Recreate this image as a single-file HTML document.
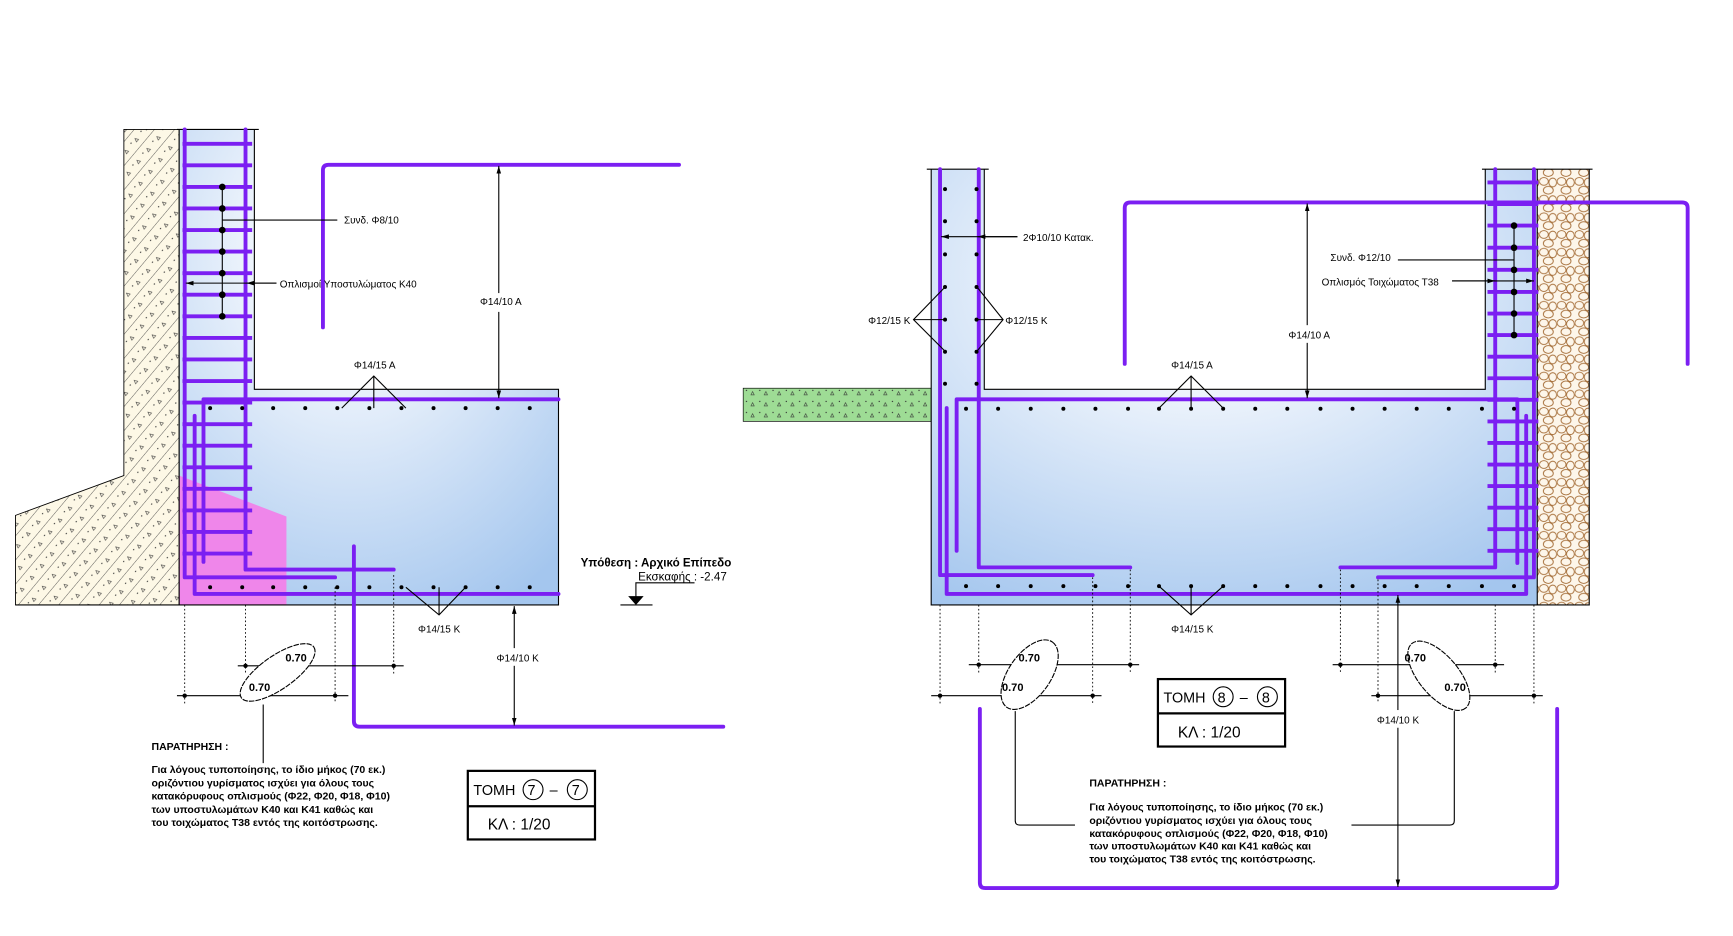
<!DOCTYPE html>
<html><head><meta charset="utf-8"><style>
html,body{margin:0;padding:0;background:#fff;}
svg{display:block;}
text{font-family:"Liberation Sans",sans-serif;fill:#000;}
.s{font-size:9px;}
.p{fill:none;stroke:#7b1ff2;stroke-width:3.5;stroke-linecap:round;stroke-linejoin:round;}
.l{fill:none;stroke:#000;stroke-width:1;}
.d{fill:none;stroke:#000;stroke-width:0.8;stroke-dasharray:1.5 2;}
</style></head><body>
<svg width="1733" height="936" viewBox="0 0 1567 846.3" preserveAspectRatio="none" xmlns="http://www.w3.org/2000/svg">
<defs>
<radialGradient id="bg" cx="0.45" cy="0.25" r="0.85">
<stop offset="0" stop-color="#ffffff"/><stop offset="0.3" stop-color="#eef4fc"/><stop offset="1" stop-color="#a4c6ee"/></radialGradient>
<pattern id="soil" width="14" height="14" patternUnits="userSpaceOnUse" patternTransform="rotate(-50)">
<rect width="14" height="14" fill="#fdf8e6"/><line x1="0" y1="0" x2="14" y2="0" stroke="#333" stroke-width="0.7"/>
<circle cx="5" cy="6" r="0.6" fill="#333"/><path d="M9 9 l3 0 l-1.5 -3z" fill="none" stroke="#333" stroke-width="0.5"/></pattern>
<pattern id="grass" width="12" height="10" patternUnits="userSpaceOnUse">
<rect width="12" height="10" fill="#9edc95"/><circle cx="3" cy="3" r="0.6" fill="#333"/><path d="M7 7 l3 0 l-1.5-3z" fill="none" stroke="#333" stroke-width="0.5"/></pattern>
<pattern id="grav" width="16" height="16" patternUnits="userSpaceOnUse">
<rect width="16" height="16" fill="#fdf6ea"/>
<ellipse cx="4" cy="4" rx="4" ry="3.5" fill="none" stroke="#a36a33" stroke-width="0.8"/>
<ellipse cx="12" cy="5" rx="3.5" ry="4" fill="none" stroke="#a36a33" stroke-width="0.8"/>
<ellipse cx="8" cy="12" rx="4.5" ry="3.5" fill="none" stroke="#a36a33" stroke-width="0.8"/>
</pattern>
<marker id="a" viewBox="0 0 10 10" refX="10" refY="5" markerWidth="7" markerHeight="7" orient="auto-start-reverse"><path d="M0 2 L10 5 L0 8z" fill="#000"/></marker>
<g id="dl" fill="#000"><circle cx="190" r="1.8"/><circle cx="219" r="1.8"/><circle cx="247" r="1.8"/><circle cx="276" r="1.8"/><circle cx="305" r="1.8"/><circle cx="334" r="1.8"/><circle cx="363" r="1.8"/><circle cx="392" r="1.8"/><circle cx="421" r="1.8"/><circle cx="450" r="1.8"/><circle cx="479" r="1.8"/></g>
<g id="dw" fill="#000"><circle cy="171" r="1.8"/><circle cy="200" r="1.8"/><circle cy="230" r="1.8"/><circle cy="259.5" r="1.8"/><circle cy="289" r="1.8"/><circle cy="318" r="1.8"/><circle cy="347" r="1.8"/></g>
<g id="dr" fill="#000"><circle cx="873.5" r="1.8"/><circle cx="902.5" r="1.8"/><circle cx="932" r="1.8"/><circle cx="961.5" r="1.8"/><circle cx="990.5" r="1.8"/><circle cx="1020" r="1.8"/><circle cx="1048" r="1.8"/><circle cx="1077" r="1.8"/><circle cx="1106" r="1.8"/><circle cx="1135" r="1.8"/><circle cx="1164" r="1.8"/><circle cx="1194" r="1.8"/><circle cx="1223" r="1.8"/><circle cx="1252" r="1.8"/><circle cx="1281" r="1.8"/><circle cx="1310" r="1.8"/><circle cx="1340" r="1.8"/><circle cx="1369" r="1.8"/></g>
</defs>

<!-- LEFT DRAWING -->
<path d="M112 117 V430 L14 466 V547 H162 V117 Z" fill="url(#soil)" stroke="#000" stroke-width="0.8"/>
<path d="M162 117 H230 V352 H505 V547 H162 Z" fill="url(#bg)"/>
<path d="M162 430 L259 467 V547 H162 Z" fill="#ef86ea"/>
<path class="l" d="M230 117 V352 H505 V547 H14"/>
<line class="l" x1="160" y1="117" x2="234" y2="117"/>
<line class="l" x1="162" y1="117" x2="162" y2="547" stroke-width="0.6"/>
<g class="p">
<path d="M167 117 V522 H303"/><path d="M222 117 V515 H356"/>
<path d="M184 508 V361 H505"/><path d="M176 376 V537 H505"/>
<path d="M292 296 V154 Q292 149 297 149 H614"/>
<path d="M320 494 V652 Q320 657 325 657 H654"/>
</g>
<g stroke="#7b1ff2" stroke-width="3.5">
<line x1="165" y1="130" x2="228" y2="130"/><line x1="165" y1="149.5" x2="228" y2="149.5"/><line x1="165" y1="169" x2="228" y2="169"/><line x1="165" y1="188.5" x2="228" y2="188.5"/><line x1="165" y1="208" x2="228" y2="208"/><line x1="165" y1="227.5" x2="228" y2="227.5"/><line x1="165" y1="247" x2="228" y2="247"/><line x1="165" y1="266.5" x2="228" y2="266.5"/><line x1="165" y1="286" x2="228" y2="286"/><line x1="165" y1="305.5" x2="228" y2="305.5"/><line x1="165" y1="325" x2="228" y2="325"/><line x1="165" y1="344.5" x2="228" y2="344.5"/><line x1="165" y1="364" x2="228" y2="364"/><line x1="165" y1="383.5" x2="228" y2="383.5"/><line x1="165" y1="403" x2="228" y2="403"/><line x1="165" y1="422.5" x2="228" y2="422.5"/><line x1="165" y1="442" x2="228" y2="442"/><line x1="165" y1="461.5" x2="228" y2="461.5"/><line x1="165" y1="481" x2="228" y2="481"/><line x1="165" y1="500.5" x2="228" y2="500.5"/>
</g>
<line class="l" x1="201" y1="169" x2="201" y2="287"/>
<g fill="#000">
<circle cx="201" cy="169" r="3"/><circle cx="201" cy="188.5" r="3"/><circle cx="201" cy="208" r="3"/><circle cx="201" cy="227.5" r="3"/><circle cx="201" cy="247" r="3"/><circle cx="201" cy="266.5" r="3"/><circle cx="201" cy="286" r="3"/>
</g>
<use href="#dl" y="369"/><use href="#dl" y="531"/>
<line class="l" x1="201" y1="199" x2="305" y2="199"/>
<text class="s" x="311" y="202">Συνδ. Φ8/10</text>
<line class="l" x1="250" y1="256" x2="168" y2="256" marker-end="url(#a)"/>
<line class="l" x1="250" y1="256" x2="223" y2="256" marker-end="url(#a)"/>
<text class="s" x="253" y="260">Οπλισμοί Υποστυλώματος Κ40</text>
<line class="l" x1="451" y1="265" x2="451" y2="150" marker-end="url(#a)"/>
<line class="l" x1="451" y1="282" x2="451" y2="360" marker-end="url(#a)"/>
<text class="s" x="434" y="276">Φ14/10 Α</text>
<text class="s" x="320" y="333">Φ14/15 Α</text>
<path class="l" d="M309 369 L338 340 L367 369 M338 340 V369"/>
<text class="s" x="378" y="572">Φ14/15 Κ</text>
<path class="l" d="M367 531 L397 556 L421 531 M397 556 V531"/>
<line class="l" x1="465" y1="586" x2="465" y2="548" marker-end="url(#a)"/>
<line class="l" x1="465" y1="602" x2="465" y2="656" marker-end="url(#a)"/>
<text class="s" x="449" y="598">Φ14/10 Κ</text>
<text x="525" y="512" font-size="10.5" font-weight="bold">Υπόθεση : Αρχικό Επίπεδο</text>
<text x="577" y="525" font-size="10.5">Εκσκαφής : -2.47</text>
<path class="l" d="M628 527 H575 V540"/><path d="M568 539 H582 L575 547 Z" fill="#000"/>
<line class="l" x1="561" y1="547" x2="590" y2="547"/>
<g class="d"><line x1="167" y1="547" x2="167" y2="636"/><line x1="222" y1="547" x2="222" y2="609"/><line x1="303" y1="531" x2="303" y2="636"/><line x1="356" y1="520" x2="356" y2="609"/></g>
<g class="l"><line x1="215" y1="602" x2="365" y2="602"/><line x1="160" y1="629" x2="315" y2="629"/></g>
<g fill="#000"><circle cx="222" cy="602" r="2"/><circle cx="356" cy="602" r="2"/><circle cx="167" cy="629" r="2"/><circle cx="303" cy="629" r="2"/></g>
<ellipse cx="251" cy="608" rx="40" ry="15" transform="rotate(-35 251 608)" fill="#fff" stroke="#000" stroke-width="1" stroke-dasharray="5 1"/>
<text x="258" y="598" font-size="10" font-weight="bold">0.70</text>
<text x="225" y="625" font-size="10" font-weight="bold">0.70</text>
<line class="l" x1="238" y1="637" x2="238" y2="690"/>
<text x="137" y="678" font-size="9.5" font-weight="bold">ΠΑΡΑΤΗΡΗΣΗ :</text>
<g font-size="9.5" font-weight="bold">
<text x="137" y="699">Για λόγους τυποποίησης, το ίδιο μήκος (70 εκ.)</text>
<text x="137" y="711">οριζόντιου γυρίσματος ισχύει για όλους τους</text>
<text x="137" y="723">κατακόρυφους οπλισμούς (Φ22, Φ20, Φ18, Φ10)</text>
<text x="137" y="735">των υποστυλωμάτων Κ40 και Κ41 καθώς και</text>
<text x="137" y="747">του τοιχώματος Τ38 εντός της κοιτόστρωσης.</text>
</g>
<rect x="423" y="697" width="115" height="62" fill="none" stroke="#000" stroke-width="2"/>
<line x1="423" y1="729" x2="538" y2="729" stroke="#000" stroke-width="2"/>
<text x="428" y="719" font-size="13">ΤΟΜΗ</text>
<circle cx="482" cy="714" r="9" fill="none" stroke="#000"/><text x="477" y="719" font-size="13">7</text>
<text x="497" y="719" font-size="13">–</text>
<circle cx="522" cy="714" r="9" fill="none" stroke="#000"/><text x="517" y="719" font-size="13">7</text>
<text x="441" y="750" font-size="14">ΚΛ  :  1/20</text>

<!-- RIGHT DRAWING -->
<rect x="672" y="351" width="170" height="30" fill="url(#grass)" stroke="#000" stroke-width="0.6"/>
<path d="M842 153 H890 V352 H1343 V153 H1390 V547 H842 Z" fill="url(#bg)"/>
<rect x="1390" y="153" width="47" height="394" fill="url(#grav)"/>
<path class="l" d="M842 153 V547 H1437 V153 M890 153 V352 H1343 V153 M1390 153 V547"/>
<g class="l"><line x1="838" y1="153" x2="894" y2="153"/><line x1="1340" y1="153" x2="1440" y2="153"/></g>
<g class="p">
<path d="M850 153 V520 H988"/><path d="M885 153 V513 H1022"/>
<path d="M865 498 V361 H1372 V509"/>
<path d="M856 369 V537 H1380 V376"/>
<path d="M1352 153 V513 H1212"/><path d="M1387 153 V522 H1246"/>
<path d="M1017 329 V188 Q1017 183 1022 183 H1521 Q1526 183 1526 188 V329"/>
<path d="M886 641 V798 Q886 803 891 803 H1403 Q1408 803 1408 798 V641"/>
</g>
<g stroke="#7b1ff2" stroke-width="3.5">
<line x1="1345" y1="165" x2="1391" y2="165"/><line x1="1345" y1="184.5" x2="1391" y2="184.5"/><line x1="1345" y1="204" x2="1391" y2="204"/><line x1="1345" y1="224" x2="1391" y2="224"/><line x1="1345" y1="244" x2="1391" y2="244"/><line x1="1345" y1="264" x2="1391" y2="264"/><line x1="1345" y1="283.5" x2="1391" y2="283.5"/><line x1="1345" y1="303" x2="1391" y2="303"/><line x1="1345" y1="322.5" x2="1391" y2="322.5"/><line x1="1345" y1="342" x2="1391" y2="342"/><line x1="1345" y1="361.5" x2="1391" y2="361.5"/><line x1="1345" y1="381" x2="1391" y2="381"/><line x1="1345" y1="400.5" x2="1391" y2="400.5"/><line x1="1345" y1="420" x2="1391" y2="420"/><line x1="1345" y1="439.5" x2="1391" y2="439.5"/><line x1="1345" y1="459" x2="1391" y2="459"/><line x1="1345" y1="478.5" x2="1391" y2="478.5"/><line x1="1345" y1="498" x2="1391" y2="498"/>
</g>
<line class="l" x1="1369" y1="204" x2="1369" y2="303"/>
<g fill="#000">
<circle cx="1369" cy="204" r="3"/><circle cx="1369" cy="224" r="3"/><circle cx="1369" cy="244" r="3"/><circle cx="1369" cy="264" r="3"/><circle cx="1369" cy="283.5" r="3"/><circle cx="1369" cy="303" r="3"/>
</g>
<use href="#dw" x="854.5"/><use href="#dw" x="883"/>
<use href="#dr" y="369.6"/><use href="#dr" y="530"/>
<line class="l" x1="920" y1="214" x2="851" y2="214" marker-end="url(#a)"/>
<line class="l" x1="920" y1="214" x2="884" y2="214" marker-end="url(#a)"/>
<text class="s" x="925" y="218">2Φ10/10 Κατακ.</text>
<path class="l" d="M855 259 L826 289 L855 318 M826 289 H855 M883 259 L907 289 L883 318 M907 289 H883"/>
<text class="s" x="785" y="293">Φ12/15 Κ</text>
<text class="s" x="909" y="293">Φ12/15 Κ</text>
<text class="s" x="1203" y="236">Συνδ. Φ12/10</text>
<line class="l" x1="1264" y1="235" x2="1369" y2="235"/>
<text class="s" x="1195" y="258">Οπλισμός Τοιχώματος Τ38</text>
<line class="l" x1="1313" y1="254" x2="1352" y2="254" marker-end="url(#a)"/>
<line class="l" x1="1313" y1="254" x2="1387" y2="254" marker-end="url(#a)"/>
<line class="l" x1="1182" y1="294" x2="1182" y2="184" marker-end="url(#a)"/>
<line class="l" x1="1182" y1="310" x2="1182" y2="360" marker-end="url(#a)"/>
<text class="s" x="1165" y="306">Φ14/10 Α</text>
<text class="s" x="1059" y="333">Φ14/15 Α</text>
<path class="l" d="M1048 369 L1077 340 L1106 369 M1077 340 V369"/>
<text class="s" x="1059" y="572">Φ14/15 Κ</text>
<path class="l" d="M1048 530 L1077 556 L1106 530 M1077 556 V530"/>
<line class="l" x1="1264" y1="642" x2="1264" y2="538" marker-end="url(#a)"/>
<line class="l" x1="1264" y1="658" x2="1264" y2="802" marker-end="url(#a)"/>
<text class="s" x="1245" y="654">Φ14/10 Κ</text>
<g class="d"><line x1="850" y1="547" x2="850" y2="636"/><line x1="885" y1="547" x2="885" y2="609"/><line x1="988" y1="522" x2="988" y2="636"/><line x1="1022" y1="515" x2="1022" y2="609"/><line x1="1212" y1="515" x2="1212" y2="609"/><line x1="1246" y1="524" x2="1246" y2="636"/><line x1="1352" y1="547" x2="1352" y2="609"/><line x1="1387" y1="547" x2="1387" y2="636"/></g>
<g class="l"><line x1="876" y1="601" x2="1030" y2="601"/><line x1="842" y1="629" x2="996" y2="629"/><line x1="1205" y1="601" x2="1360" y2="601"/><line x1="1240" y1="629" x2="1395" y2="629"/></g>
<g fill="#000"><circle cx="885" cy="601" r="2"/><circle cx="1022" cy="601" r="2"/><circle cx="850" cy="629" r="2"/><circle cx="988" cy="629" r="2"/><circle cx="1212" cy="601" r="2"/><circle cx="1352" cy="601" r="2"/><circle cx="1246" cy="629" r="2"/><circle cx="1387" cy="629" r="2"/></g>
<ellipse cx="931" cy="610" rx="36" ry="19" transform="rotate(-55 931 610)" fill="#fff" stroke="#000" stroke-width="1" stroke-dasharray="5 1"/>
<ellipse cx="1301" cy="611" rx="38" ry="18" transform="rotate(50 1301 611)" fill="#fff" stroke="#000" stroke-width="1" stroke-dasharray="5 1"/>
<text x="921" y="598" font-size="10" font-weight="bold">0.70</text>
<text x="906" y="625" font-size="10" font-weight="bold">0.70</text>
<text x="1270" y="598" font-size="10" font-weight="bold">0.70</text>
<text x="1306" y="625" font-size="10" font-weight="bold">0.70</text>
<path class="l" d="M918 643 V742 Q918 746 922 746 H972 M1315 643 V742 Q1315 746 1311 746 H1222"/>
<rect x="1047" y="614" width="115" height="61" fill="none" stroke="#000" stroke-width="2"/>
<line x1="1047" y1="645" x2="1162" y2="645" stroke="#000" stroke-width="2"/>
<text x="1052" y="635" font-size="13">ΤΟΜΗ</text>
<circle cx="1106" cy="630" r="9" fill="none" stroke="#000"/><text x="1101" y="635" font-size="13">8</text>
<text x="1121" y="635" font-size="13">–</text>
<circle cx="1146" cy="630" r="9" fill="none" stroke="#000"/><text x="1141" y="635" font-size="13">8</text>
<text x="1065" y="667" font-size="14">ΚΛ  :  1/20</text>
<text x="985" y="711" font-size="9.5" font-weight="bold">ΠΑΡΑΤΗΡΗΣΗ :</text>
<g font-size="9.5" font-weight="bold">
<text x="985" y="733">Για λόγους τυποποίησης, το ίδιο μήκος (70 εκ.)</text>
<text x="985" y="745">οριζόντιου γυρίσματος ισχύει για όλους τους</text>
<text x="985" y="757">κατακόρυφους οπλισμούς (Φ22, Φ20, Φ18, Φ10)</text>
<text x="985" y="768">των υποστυλωμάτων Κ40 και Κ41 καθώς και</text>
<text x="985" y="780">του τοιχώματος Τ38 εντός της κοιτόστρωσης.</text>
</g>
</svg>
</body></html>
